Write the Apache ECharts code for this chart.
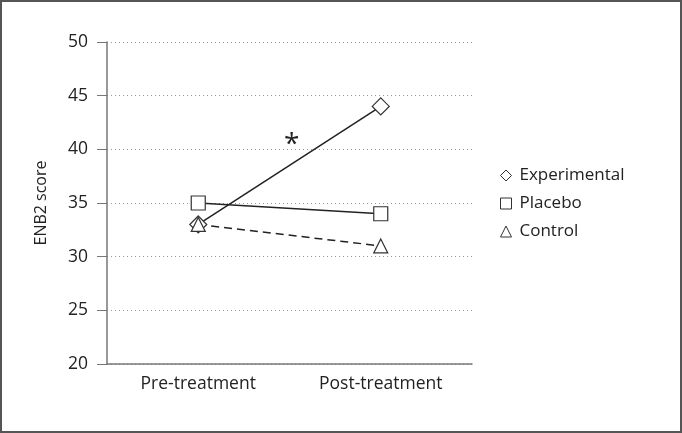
<!DOCTYPE html>
<html><head><meta charset="utf-8">
<script src="https://cdn.jsdelivr.net/npm/echarts@6/dist/echarts.min.js"></script>
<style>html,body{margin:0;padding:0;background:#fff}#c{width:682px;height:433px}</style>
</head><body><div id="c"></div>
<script>
var categories = ['Pre-treatment', 'Post-treatment'];
var experimental = [33, 44];
var placebo = [35, 34];
var control = [33, 31];
var yTicks = [20, 25, 30, 35, 40, 45, 50];

var font = '"Open Sans", "Noto Sans", sans-serif';
var chart = echarts.init(document.getElementById('c'));
function mk(name, data, symbol, size, dash) {
  return {
    name: name, type: 'line', data: data, symbol: symbol, symbolSize: size,
    lineStyle: {color: '#222', width: 1.5, type: dash ? [8, 5] : 'solid'},
    itemStyle: {color: '#fff', borderColor: '#333', borderWidth: 1.2},
    emphasis: {disabled: true}, z: 3
  };
}
chart.setOption({
  animation: false,
  grid: {left: 107, right: 210, top: 42, bottom: 69},
  xAxis: {
    type: 'category', data: categories, boundaryGap: true,
    axisLine: {lineStyle: {color: '#777', width: 1.5}},
    axisTick: {inside: true, length: 6, lineStyle: {color: '#777'}},
    axisLabel: {color: '#222', fontSize: 17.5, fontFamily: font, margin: 11}
  },
  yAxis: {
    type: 'value', min: yTicks[0], max: yTicks[yTicks.length - 1], interval: 5,
    name: 'ENB2 score', nameLocation: 'middle', nameGap: 58,
    nameTextStyle: {color: '#222', fontSize: 16, fontFamily: font},
    axisLine: {show: true, lineStyle: {color: '#777', width: 1.5}},
    axisTick: {show: true, length: 10, lineStyle: {color: '#777'}},
    axisLabel: {color: '#222', fontSize: 17.5, fontFamily: font, margin: 19},
    splitLine: {show: true, lineStyle: {color: '#999', type: [1, 3], width: 1}}
  },
  legend: {
    orient: 'vertical', left: 495, top: 162, itemGap: 11,
    itemWidth: 11, itemHeight: 11,
    itemStyle: {color: '#fff', borderColor: '#333', borderWidth: 1},
    textStyle: {color: '#222', fontSize: 17, fontFamily: font, padding: [0, 0, 0, 3]},
    data: [
      {name: 'Experimental', icon: 'diamond'},
      {name: 'Placebo', icon: 'rect'},
      {name: 'Control', icon: 'triangle'}
    ]
  },
  graphic: [
    {type: 'rect', shape: {x: 1, y: 1, width: 680, height: 431}, style: {fill: 'none', stroke: '#555', lineWidth: 2}},
    {type: 'text', left: 284, top: 131, style: {text: '*', fontSize: 28, fontFamily: font, fill: '#222'}}
  ],
  series: [
    mk('Experimental', experimental, 'diamond', 17, false),
    mk('Placebo', placebo, 'rect', 14, false),
    mk('Control', control, 'triangle', 14, true)
  ]
});
</script></body></html>
